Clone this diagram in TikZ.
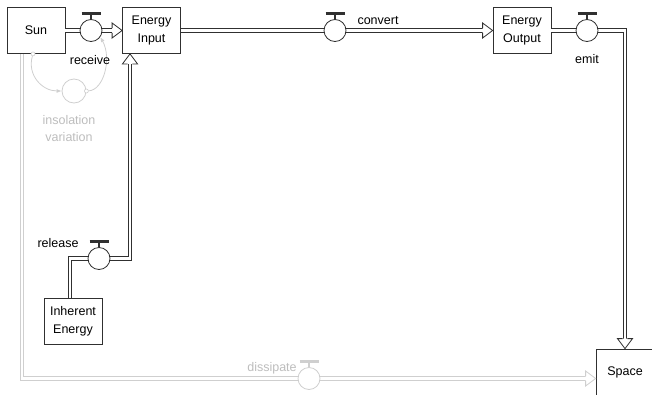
\documentclass[tikz,border=0pt]{standalone}
\usepackage{fontspec}
\setmainfont{Liberation Sans}
\usetikzlibrary{arrows.meta}

\definecolor{ink}{HTML}{303030}
\definecolor{ghost}{HTML}{CFCFCF}
\definecolor{ghosttext}{HTML}{BDBDBD}

\tikzset{
  lbl/.style={font=\fontsize{12.5}{17.5}\selectfont, text=black, inner sep=0pt, align=center},
  stock/.style={lbl, draw=ink, line width=0.8pt, minimum width=58pt, minimum height=46pt},
  pipe/.style={draw=ink, double=white, line width=0.9pt, double distance=2.8pt, line join=miter},
  gpipe/.style={pipe, draw=ghost},
  valve/.style={circle, draw=ink, fill=white, line width=0.8pt, minimum size=22pt, inner sep=0pt},
  gvalve/.style={valve, draw=ghost},
  link/.style={draw=ghost, line width=0.8pt, -{Latex[length=5pt,width=4pt]}},
  linkdot/.style={circle, draw=ghost, fill=white, line width=0.6pt, minimum size=4pt, inner sep=0pt},
  pics/flowhead/.style={code={
    \path[fill=white] (-10,7.5) -- (0,0) -- (-10,-7.5) -- cycle;
    \draw[line width=0.8pt, line join=miter] (-10,2.3) -- (-10,7.5) -- (0,0) -- (-10,-7.5) -- (-10,-2.3);
  }},
  pics/vhandle/.style={code={
    \draw[line width=1.8pt] (0,0) -- (0,-5.5);
    \draw[line width=2.5pt] (-9.5,-5.5) -- (9.5,-5.5);
  }}
}

\begin{document}
\begin{tikzpicture}[x=1pt, y=-1pt]
\useasboundingbox (0,0) rectangle (652,394);
\clip (0,0) rectangle (652,394);

% stocks
\node[stock] (sun)  at (36,30.5)   {Sun};
\node[stock] (ein)  at (151.5,30.5) {Energy\\Input};
\node[stock] (eout) at (522,30.5)  {Energy\\Output};
\node[stock] (inh)  at (73,321.5)  {Inherent\\Energy};
\node[stock] (space) at (625,372)  {Space};

% pipe corners
\coordinate (ecorner) at (625,30.5);
\coordinate (r1) at (70,258.5);
\coordinate (r2) at (130,258.5);
\coordinate (d1) at (22,378.5);

% flows (continuous pipes ending at the arrow bases; valves sit on top)
\draw[gpipe] (sun.south -| d1) -- (d1) -- ([xshift=-10pt]space.west |- d1);
\draw[pipe] (sun.east) -- ([xshift=-10pt]ein.west);
\draw[pipe] (ein.east) -- ([xshift=-10pt]eout.west);
\draw[pipe] (eout.east) -- (ecorner) -- ([yshift=10pt]space.north);
\draw[pipe] (inh.north -| r1) -- (r1) -- (r2) -- ([yshift=-10pt]ein.south -| r2);

% arrow heads of the flows
\pic[color=ghost] at (space.west |- d1) {flowhead};
\pic[color=ink] at (ein.west) {flowhead};
\pic[color=ink] at (eout.west) {flowhead};
\pic[color=ink, rotate=-90] at (space.north) {flowhead};
\pic[color=ink, rotate=90] at (ein.south -| r2) {flowhead};

% valves
\node[valve]  (recv) at (91,30.5)   {};
\node[valve]  (conv) at (335,30.5)  {};
\node[valve]  (emit) at (587,30.5)  {};
\node[valve]  (rel)  at (99,258.5)  {};
\node[gvalve] (diss) at (309,378.5) {};
\foreach \v in {recv,conv,emit,rel}{
  \pic[color=ink] at (\v.north) {vhandle};
}
\pic[color=ghost] at (diss.north) {vhandle};

% auxiliary and information links
\node[circle, draw=ghost, line width=0.8pt, minimum size=24pt, inner sep=0pt] (var) at (74,91) {};
\node[linkdot] (l1) at (sun.south -| 33,0) {};
\node[linkdot] (l2) at (var.east) {};
\draw[link] (l1) .. controls (27,75) and (42,91) .. (var.west);
\draw[link] (l2) .. controls (104,90) and (112,58) .. (recv.-35);

% labels
\node[lbl] (lrecv) at (90,60) {receive};
\node[lbl] (lconv) at (378,21) {convert};
\node[lbl] (lemit) at (587,59) {emit};
\node[lbl] (lrel)  at (58,243) {release};
\node[lbl, text=ghosttext] (ldiss) at (272,368) {dissipate};
\node[lbl, text=ghosttext] (lvar) at (69,128.5) {insolation\\variation};
\end{tikzpicture}
\end{document}
